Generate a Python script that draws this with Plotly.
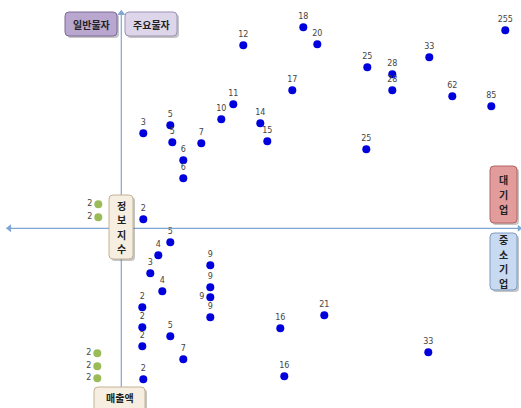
import plotly.graph_objects as go

# ---- data (arbitrary index units; origin = axis cross) ----
blue_x = [122, 182, 196, 246, 271, 308, 384, 171, 271, 331, 370, 112, 100, 139, 146,
          49, 22, 51, 80, 62, 62, 245, 22,
          49, 37, 29, 41, 89, 89, 89, 89, 21, 21, 49, 21, 62, 22, 203, 159, 307, 163]
blue_y = [183, 201, 184, 161, 154, 171, 198, 138, 138, 132, 122, 124, 109, 105, 87,
          103, 95, 86, 85, 68, 50, 79, 9,
          -14, -27, -45, -63, -37, -59, -69, -89, -79, -99, -108, -118, -131, -151, -87, -100, -124, -148]
blue_label = ["12", "18", "20", "25", "28", "33", "255", "17", "28", "62", "85", "11", "10", "14", "15",
              "5", "3", "5", "7", "6", "6", "25", "2",
              "5", "4", "3", "4", "9", "9", "9", "9", "2", "2", "5", "2", "7", "2", "21", "16", "33", "16"]
left_label_index = 29  # the "9" whose label sits on its left

green_x = [-23, -23, -24, -24, -24]
green_y = [24, 11, -125, -138, -150]
green_label = ["2", "2", "2", "2", "2"]

box_texts = ["일반물자", "주요물자", "정보지수", "매출액", "대기업", "중소기업"]
box_vertical = [False, False, True, False, True, True]

W, H = 521, 408
X_RANGE = [-121.3, 399.7]
Y_RANGE = [-179.7, 228.3]

fig = go.Figure()

AXIS_COLOR = "#7fa7d6"
# axis lines
fig.add_shape(type="line", x0=-112, x1=398, y0=0, y1=0, line=dict(color=AXIS_COLOR, width=1.2))
fig.add_shape(type="line", x0=0, x1=0, y0=-180, y1=214, line=dict(color=AXIS_COLOR, width=1.2))
# arrow heads
fig.add_trace(go.Scatter(x=[-112], y=[0], mode="markers",
                         marker=dict(symbol="triangle-left", size=7, color=AXIS_COLOR),
                         hoverinfo="skip"))
fig.add_trace(go.Scatter(x=[398], y=[0], mode="markers",
                         marker=dict(symbol="triangle-right", size=6, color=AXIS_COLOR),
                         hoverinfo="skip"))
fig.add_trace(go.Scatter(x=[0], y=[215], mode="markers",
                         marker=dict(symbol="triangle-up", size=7, color=AXIS_COLOR),
                         hoverinfo="skip"))

positions = ["middle left" if i == left_label_index else "top center" for i in range(len(blue_x))]
fig.add_trace(go.Scatter(
    x=blue_x, y=blue_y, mode="markers+text", text=blue_label, textposition=positions,
    marker=dict(size=8, color="#0000dd"),
    textfont=dict(size=8, color="#444444", family="DejaVu Sans"),
    hoverinfo="skip"))
fig.add_trace(go.Scatter(
    x=green_x, y=green_y, mode="markers+text", text=green_label, textposition="middle left",
    marker=dict(size=8, color="#9bbb59"),
    textfont=dict(size=8, color="#444444", family="DejaVu Sans"),
    hoverinfo="skip"))


def px(x):
    return x / W


def py(y):
    return 1 - y / H


def rrect(x0, y0, x1, y1, r=4):
    pts = (f"M {px(x0+r)},{py(y0)} L {px(x1-r)},{py(y0)} Q {px(x1)},{py(y0)} {px(x1)},{py(y0+r)} "
           f"L {px(x1)},{py(y1-r)} Q {px(x1)},{py(y1)} {px(x1-r)},{py(y1)} "
           f"L {px(x0+r)},{py(y1)} Q {px(x0)},{py(y1)} {px(x0)},{py(y1-r)} "
           f"L {px(x0)},{py(y0+r)} Q {px(x0)},{py(y0)} {px(x0+r)},{py(y0)} Z")
    return pts


boxes = [
    # (x0, y0, x1, y1, fill, border)
    (65, 12, 117, 36, "#b9a7cf", "#7d6a98"),
    (125, 12, 177, 36, "#ddd6ea", "#9d92b3"),
    (109, 195, 133, 259, "#f6eee1", "#c4b296"),
    (94, 387, 145, 414, "#f6eee1", "#c4b296"),
    (490, 166, 517, 223, "#e39c9c", "#b26464"),
    (490, 233, 517, 290, "#c7daf1", "#7f9bc0"),
]
FONT = dict(size=10, color="#222222", family="Noto Sans CJK KR")
STEP = 14.6
for (x0, y0, x1, y1, fill, border), txt, vert in zip(boxes, box_texts, box_vertical):
    fig.add_shape(type="path", xref="paper", yref="paper", path=rrect(x0 + 2, y0 + 2, x1 + 2, y1 + 2),
                  fillcolor="rgba(90,90,90,0.35)", line=dict(width=0), layer="above")
    fig.add_shape(type="path", xref="paper", yref="paper", path=rrect(x0, y0, x1, y1),
                  fillcolor=fill, line=dict(color=border, width=1), layer="above")
    cx = (x0 + x1) / 2
    cy = (y0 + min(y1, H)) / 2
    if vert:
        n = len(txt)
        for k, ch in enumerate(txt):
            yy = cy + (k - (n - 1) / 2) * STEP
            fig.add_annotation(x=px(cx), y=py(yy), xref="paper", yref="paper",
                               xanchor="center", yanchor="middle", borderpad=0,
                               text=f"<b>{ch}</b>", showarrow=False, font=FONT)
    else:
        fig.add_annotation(x=px(cx), y=py(cy), xref="paper", yref="paper",
                           xanchor="center", yanchor="middle",
                           text=f"<b>{txt}</b>", showarrow=False, font=FONT)

fig.update_layout(
    width=W, height=H, margin=dict(l=0, r=0, t=0, b=0),
    paper_bgcolor="white", plot_bgcolor="white", showlegend=False,
    xaxis=dict(range=X_RANGE, visible=False, fixedrange=True),
    yaxis=dict(range=Y_RANGE, visible=False, fixedrange=True),
)

fig.write_html("out.html", config={"displayModeBar": False},
               post_script="document.body.style.margin='0';document.body.style.overflow='hidden';")
